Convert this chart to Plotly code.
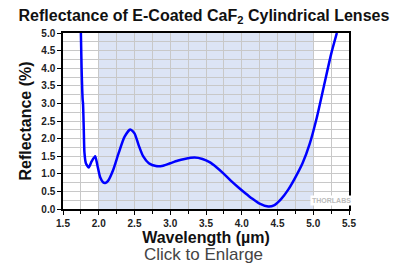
import plotly.graph_objects as go

wavelength = [1.75, 1.76, 1.775, 1.78, 1.79, 1.80, 1.82, 1.86, 1.90, 1.95, 1.98, 2.02, 2.06, 2.09, 2.13,
              2.20, 2.28, 2.36, 2.44, 2.50, 2.56, 2.62, 2.70, 2.80, 2.90, 3.00, 3.10, 3.20, 3.34,
              3.45, 3.55, 3.65, 3.75, 3.85, 3.95, 4.05, 4.15, 4.25, 4.37, 4.45, 4.55, 4.65, 4.75,
              4.85, 4.95, 5.05, 5.15, 5.25, 5.33]
reflectance = [5.0, 4.0, 3.1, 3.0, 2.3, 1.6, 1.3, 1.18, 1.35, 1.5, 1.25, 0.9, 0.76, 0.74, 0.8,
               1.1, 1.6, 2.05, 2.26, 2.15, 1.8, 1.5, 1.3, 1.22, 1.23, 1.3, 1.37, 1.42, 1.46,
               1.42, 1.33, 1.18, 1.0, 0.8, 0.62, 0.45, 0.29, 0.15, 0.07, 0.1, 0.28, 0.55, 0.9,
               1.3, 1.85, 2.6, 3.5, 4.4, 5.0]
band = [2.0, 5.0]

FONT = "Arial, Liberation Sans, sans-serif"

fig = go.Figure()
fig.add_trace(go.Scatter(x=wavelength, y=reflectance, mode="lines",
                         line=dict(color="#0000ff", width=2.5, shape="spline", smoothing=0.6),
                         showlegend=False, hoverinfo="skip"))
fig.add_shape(type="rect", xref="x", yref="y", x0=band[0], x1=band[1], y0=0, y1=5,
              fillcolor="#dce4f5", line=dict(width=0), layer="below")

axis_common = dict(showline=True, linecolor="black", linewidth=1.5, mirror=True,
                   ticks="outside", ticklen=4, tickcolor="black",
                   showgrid=True, gridcolor="#c8c8c8", gridwidth=1, zeroline=False,
                   tickfont=dict(family=FONT, size=10, color="#222", weight="bold"))

fig.update_xaxes(range=[1.5, 5.5], dtick=0.5, tick0=1.5, tickformat=".1f",
                 minor=dict(dtick=0.25, showgrid=True, gridcolor="#c8c8c8", ticks="outside",
                            ticklen=3, tickcolor="black"),
                 title=dict(text="<b>Wavelength (µm)</b>", standoff=2,
                            font=dict(family=FONT, size=16, color="#111")),
                 **axis_common)
fig.update_yaxes(range=[0, 5], dtick=0.5, tick0=0, tickformat=".1f",
                 minor=dict(dtick=0.25, showgrid=True, gridcolor="#c8c8c8"),
                 title=dict(text="<b>Reflectance (%)</b>", standoff=6,
                            font=dict(family=FONT, size=16, color="#111")),
                 **axis_common)

fig.update_layout(
    width=396, height=265,
    margin=dict(l=63, r=47, t=33, b=56),
    paper_bgcolor="white", plot_bgcolor="white",
    title=dict(text="<b>Reflectance of E-Coated CaF<sub>2</sub> Cylindrical Lenses</b>",
               x=0.515, xanchor="center", y=1 - 15 / 265, yanchor="middle",
               font=dict(family=FONT, size=16, color="#111")),
    annotations=[
        dict(text="Click to Enlarge", xref="paper", yref="paper", x=0.49, y=0, xanchor="center",
             yshift=-34, yanchor="top", showarrow=False,
             font=dict(family=FONT, size=17, color="#444")),
        dict(text="<b>THORLABS</b>", xref="x", yref="y", x=5.25, y=0.25, xanchor="center",
             showarrow=False, font=dict(family=FONT, size=7, color="#bbbbbb"),
             bgcolor="white"),
    ],
)

fig.write_html("out.html", config={"displayModeBar": False},
               post_script="document.body.style.margin='0px';")
